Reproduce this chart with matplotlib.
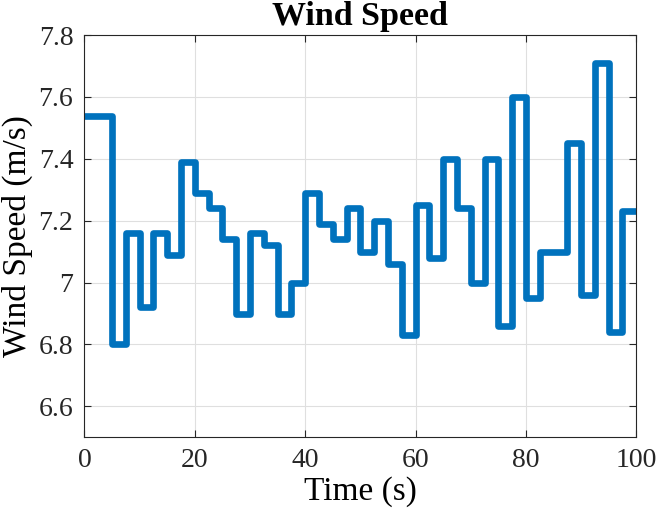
import numpy as np
import matplotlib
matplotlib.use("Agg")
import matplotlib.pyplot as plt

# step edges (s) and wind speed held over each step (m/s)
t_edges = [0, 5, 7.5, 10, 12.5, 15, 17.5, 20, 22.5, 25, 27.5, 30, 32.5, 35,
           37.5, 40, 42.5, 45, 47.5, 50, 52.5, 55, 57.5, 60, 62.5, 65, 67.5,
           70, 72.5, 75, 77.5, 80, 82.5, 87.5, 90, 92.5, 95, 97.5, 100]
speed = [7.54, 6.80, 7.16, 6.92, 7.16, 7.09, 7.39, 7.29, 7.24, 7.14, 6.90,
         7.16, 7.12, 6.90, 7.00, 7.29, 7.19, 7.14, 7.24, 7.10, 7.20, 7.06,
         6.83, 7.25, 7.08, 7.40, 7.24, 7.00, 7.40, 6.86, 7.60, 6.95, 7.10,
         7.45, 6.96, 7.71, 6.84, 7.23]

x_ticks = [0, 20, 40, 60, 80, 100]
y_ticks = [6.6, 6.8, 7.0, 7.2, 7.4, 7.6, 7.8]
y_labels = ["6.6", "6.8", "7", "7.2", "7.4", "7.6", "7.8"]

plt.rcParams['font.family'] = ['Liberation Serif', 'DejaVu Serif']

fig = plt.figure(figsize=(6.6, 5.24), dpi=100)
ax = fig.add_axes([0.128, 0.1655, 0.836, 0.7675])

# stairs: repeat last value so the final step reaches t=100
ax.step(t_edges, speed + [speed[-1]], where='post', color='#0072BD',
        linewidth=4.8, solid_joinstyle='round')

ax.set_xlim(0, 100)
ax.set_ylim(6.5, 7.8)
ax.set_xticks(x_ticks)
ax.set_yticks(y_ticks)
ax.set_yticklabels(y_labels)
ax.grid(True, color='#dfdfdf', linewidth=0.8)
ax.set_axisbelow(True)

for s in ax.spines.values():
    s.set_color('#262626')
    s.set_linewidth(0.8)
ax.tick_params(direction='in', top=True, right=True, length=5, width=0.8,
               color='#262626', labelsize=20, labelcolor='#262626', pad=8)

ax.set_title("Wind Speed", fontsize=24.5, fontweight='bold', pad=7)
ax.set_xlabel("Time (s)", fontsize=24, labelpad=2)
ax.set_ylabel("Wind Speed (m/s)", fontsize=24, labelpad=4)

fig.savefig("out.png", dpi=100)
